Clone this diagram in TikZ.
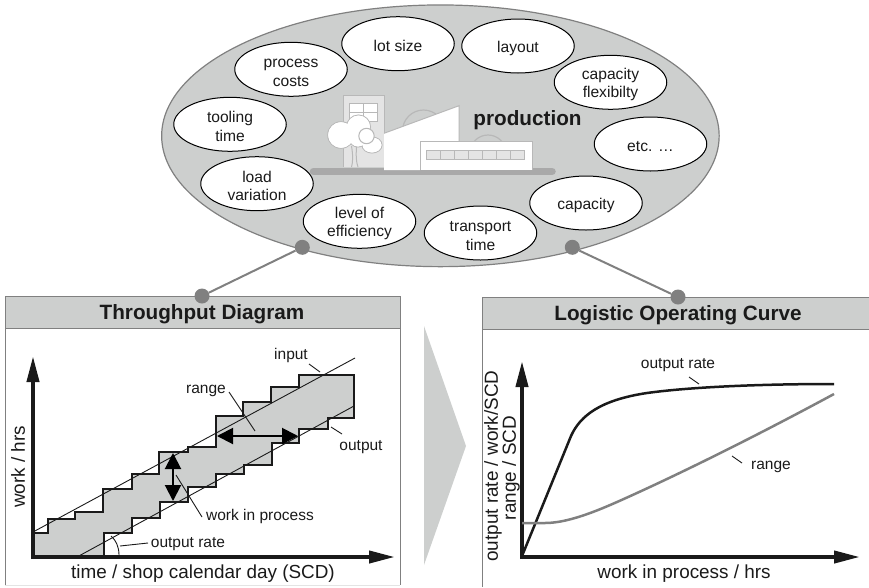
\documentclass[tikz,border=0pt]{standalone}
\usepackage{fontspec}
\setmainfont{Liberation Sans}
\usetikzlibrary{shapes.geometric,arrows.meta}
\definecolor{panelgray}{HTML}{CDCFCE}
\definecolor{edgegray}{HTML}{808080}
\definecolor{inkblack}{HTML}{1A1A1A}
\definecolor{buildline}{HTML}{B8B8B8}
\definecolor{buildfill}{HTML}{E4E4E4}
\definecolor{groundgray}{HTML}{A9A9A9}
\newcommand{\lowerstrut}{\rule{0pt}{16pt}}
\tikzset{
  factor/.style={ellipse,draw=black,line width=1pt,fill=white,minimum width=112.5pt,minimum height=54pt,inner sep=0pt,align=center,font=\fontsize{15.6}{18.5}\selectfont,text=inkblack},
  jointdot/.style={circle,fill=edgegray,minimum size=15pt,inner sep=0pt},
  link/.style={edgegray,line width=2pt},
  header/.style={draw=edgegray,fill=panelgray,line width=1pt},
  paneledge/.style={draw=edgegray,line width=1pt},
  title/.style={font=\fontsize{20.7}{24}\bfseries\selectfont,text=inkblack},
  small/.style={font=\fontsize{15.5}{19}\selectfont,text=inkblack,inner sep=0pt},
  axislabel/.style={font=\fontsize{18.9}{23}\selectfont,text=inkblack,inner sep=0pt},
  axisline/.style={line width=4pt,draw=inkblack,fill=inkblack,-{Triangle[length=26pt,width=12pt]}},
  thin line/.style={line width=0.9pt,draw=inkblack},
  twohead/.style={line width=2pt,draw=black,{Triangle[length=16pt,width=16pt]}-{Triangle[length=16pt,width=16pt]}},
  bld/.style={draw=buildline,line width=1pt}
}
\begin{document}
\begin{tikzpicture}[x=1pt,y=-1pt]
\useasboundingbox (0,0) rectangle (869,587);
% production ellipse
\node[ellipse,draw=edgegray,fill=panelgray,line width=1.2pt,minimum width=557.5pt,minimum height=261.7pt,inner sep=0pt] (prod) at (440.4,135.8) {};
% building
\draw[groundgray,line width=7.5pt,line cap=round] (313.5,171.4) -- (552,171.4);
\draw[buildline,line width=1.2pt] (402.5,131) arc (180:360:21);
\draw[buildline,line width=1.2pt] (470,153) arc (180:360:18);
\draw[bld,fill=buildfill] (343,167) -- (343,95.7) -- (384,95.7) -- (384,167);
\draw[bld,fill=white] (349,103) rectangle (377,121);
\draw[bld] (363,103) -- (363,121) (349,112) -- (377,112);
\draw[bld] (351.5,146) .. controls (353,155) and (353,162) .. (351.5,167);
\draw[bld] (356.5,146) .. controls (356,155) and (356,162) .. (358,167);
\filldraw[draw=buildline,fill=white,line width=1pt] (341,135) circle (13.3);
\filldraw[draw=buildline,fill=white,line width=1pt] (358.5,127) circle (12);
\filldraw[draw=buildline,fill=white,line width=1pt] (372,145) ellipse (10 and 8);
\filldraw[draw=buildline,fill=white,line width=1pt] (358,138) circle (9);
\fill[white] (341,135) circle (12.8) (358.5,127) circle (11.5) (358,138) circle (8.5) (372,145) ellipse (9.5 and 7.5);
\draw[buildline,line width=1pt,fill=white] (366.5,136) circle (7.7);
\fill[white] (384,133.3) -- (459,105.7) -- (459,141.7) -- (420,141.7) -- (420,170) -- (384,170) -- cycle;
\draw[buildline,line width=1pt] (384,133.3) -- (459,105.7) -- (459,141.7);
\fill[white] (420,141.7) rectangle (532,170);
\draw[bld] (420,170) -- (420,141.7) -- (532,141.7) -- (532,170);
\draw[bld,fill=buildfill] (426,150) rectangle (524,159.3);
\foreach \k in {1,...,6} \draw[bld] ({426+14*\k},150) -- ({426+14*\k},159.3);
\node[font=\fontsize{20.7}{24}\bfseries\selectfont,text=inkblack,inner sep=0pt] (prodlabel) at (527.5,120) {production};
% factors
\node[factor] (lot) at (398,43.7) {\lowerstrut lot size};
\node[factor] (layout) at (518,46) {\lowerstrut layout};
\node[factor] (costs) at (291,69.3) {\lowerstrut process\\costs};
\node[factor] (flex) at (610.5,82.3) {\lowerstrut capacity\\flexibilty};
\node[factor] (tool) at (230,124.3) {\lowerstrut tooling\\time};
\node[factor] (etc) at (650.5,144) {\lowerstrut etc. …};
\node[factor] (load) at (257,183.7) {\lowerstrut load\\variation};
\node[factor] (cap) at (586,203) {\lowerstrut capacity};
\node[factor] (eff) at (359.5,221.3) {\lowerstrut level of\\efficiency};
\node[factor] (trans) at (480.5,233) {\lowerstrut transport\\time};
% chevron
\fill[panelgray] (424,326) -- (466,446) -- (424,565) -- cycle;
% left panel
\draw[draw=buildfill,line width=1pt] (5,585) -- (400,585);
\draw[paneledge] (5,328) -- (5,585);
\draw[paneledge] (400,328) -- (400,585);
\draw[header] (5,296.5) rectangle (400,328);
\node[title] (ttl) at (202,314) {Throughput Diagram};
% right panel
\draw[paneledge] (482,329) -- (482,587);
\draw[header] (482,297.5) rectangle (880,329);
\node[title] (ttr) at (678,315) {Logistic Operating Curve};
% dots and links
\node[jointdot] (dotA) at (302.3,247.3) {};
\node[jointdot] (dotB) at (572.3,247.3) {};
\node[jointdot] (dotC) at (202,296) {};
\node[jointdot] (dotD) at (678,297) {};
\draw[link] (dotA) -- (dotC);
\draw[link] (dotB) -- (dotD);
% throughput diagram
\draw[fill=panelgray,draw=inkblack,line width=2.2pt,line join=miter]
 (33,533) -- (48,533) -- (48,519) -- (75,519) -- (75,512) -- (103,512) -- (103,489) -- (132,489) -- (132,474) -- (159,474) -- (159,452) -- (188,452) -- (188,447) -- (216,447) -- (216,416) -- (243,416) -- (243,402) -- (271,402) -- (271,387) -- (299,387) -- (299,375) -- (354,375) -- (354,418) -- (328,418) -- (328,429) -- (299,429) -- (299,443) -- (272,443) -- (272,465) -- (244,465) -- (244,474) -- (216,474) -- (216,487) -- (188,487) -- (188,502) -- (160,502) -- (160,518) -- (132,518) -- (132,533) -- (104,533) -- (104,557) -- (33,557) -- cycle;
\coordinate (inA) at (33,532); \coordinate (inB) at (355,358);
\coordinate (outA) at (77,557); \coordinate (outB) at (354,406);
\draw[thin line] (inA) -- (inB);
\draw[thin line] (outA) -- (outB);
\node[inner sep=0pt] (xend) at (395,557) {};
\node[inner sep=0pt] (yend) at (33,356) {};
\node[inner sep=0pt] (orig) at (33,557) {};
\draw[axisline,shorten <=-2pt] (orig.center) -- (yend.center);
\draw[axisline,shorten <=-2pt] (orig.center) -- (xend.center);
\coordinate (vA) at (173,453); \coordinate (vB) at (173,501);
\coordinate (hA) at (217,436); \coordinate (hB) at (298,436);
\draw[twohead] (vA) -- (vB);
\draw[twohead] (hA) -- (hB);
\node[small] (input) at (291,355) {input};
\node[small] (range) at (206,391) {range};
\node[small] (output) at (361,447) {output};
\node[small] (wip) at (260,516) {work in process};
\node[small] (orate) at (188,544) {output rate};
\coordinate (a1) at (309,364); \coordinate (a2) at (320,372);
\coordinate (b1) at (229,392); \coordinate (b2) at (255,431);
\coordinate (c1) at (331,427); \coordinate (c2) at (342,434);
\coordinate (d1) at (176,475); \coordinate (d2) at (202,517);
\coordinate (e1) at (148,543); \coordinate (e2) at (120,546);
\draw[thin line] (a1) -- (a2) (b1) -- (b2) (c1) -- (c2) (d1) -- (d2) (e1) -- (e2);
\draw[thin line] (111,536) .. controls (116,540) and (119,547) .. (119,555);
\node[axislabel,rotate=90] (ylabL) at (18,467) {work / hrs};
\node[axislabel] (xlabL) at (203,574) {time / shop calendar day (SCD)};
% operating curve
\node[inner sep=0pt] (o2) at (522,557) {};
\node[inner sep=0pt] (y2) at (522,361) {};
\node[inner sep=0pt] (x2) at (860,557) {};
\draw[axisline,shorten <=-2pt] (o2.center) -- (y2.center);
\draw[axisline,shorten <=-2pt] (o2.center) -- (x2.center);
\draw[line width=2.5pt,draw=inkblack] (522,556) -- (571,436) .. controls (580,416) and (600,400) .. (647,393) .. controls (690,387) and (760,384) .. (834,384);
\draw[line width=2.5pt,draw=edgegray] (522,523) -- (545,523) .. controls (565,523) and (590,514) .. (617,502) .. controls (680,474) and (760,434) .. (834,394);
\node[small] (rate2) at (678,365) {output rate};
\node[small] (range2) at (771,467) {range};
\coordinate (f1) at (689,377); \coordinate (f2) at (699,384);
\coordinate (g1) at (732,456); \coordinate (g2) at (742,463);
\draw[thin line] (f1) -- (f2) (g1) -- (g2);
\node[axislabel,rotate=90] (ylabR1) at (493,466) {output rate / work/SCD};
\node[axislabel,rotate=90] (ylabR2) at (511,468) {range / SCD};
\node[axislabel] (xlabR) at (684,574) {work in process / hrs};
\end{tikzpicture}
\end{document}
